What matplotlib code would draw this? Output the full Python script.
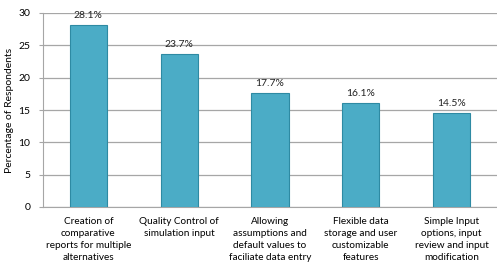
import matplotlib
matplotlib.use("Agg")
import matplotlib.pyplot as plt

categories = [
    "Creation of\ncomparative\nreports for multiple\nalternatives",
    "Quality Control of\nsimulation input",
    "Allowing\nassumptions and\ndefault values to\nfaciliate data entry",
    "Flexible data\nstorage and user\ncustomizable\nfeatures",
    "Simple Input\noptions, input\nreview and input\nmodification",
]
values = [28.1, 23.7, 17.7, 16.1, 14.5]
value_labels = ["28.1%", "23.7%", "17.7%", "16.1%", "14.5%"]
yticks = [0, 5, 10, 15, 20, 25, 30]

plt.rcParams['font.family'] = ['Lato', 'DejaVu Sans']

fig = plt.figure(figsize=(4.97, 2.73), dpi=100)
ax = fig.add_axes([43/497, 66/273, 454/497, 194/273])

x = range(len(values))
ax.bar(x, values, width=0.41, color="#4BACC6", edgecolor="#2E8AA3", linewidth=0.8, zorder=3)
for xi, v, lab in zip(x, values, value_labels):
    ax.annotate(lab, (xi, v), xytext=(0, 3.5), textcoords="offset points",
                ha="center", va="bottom", fontsize=7.5, color="#222222")

ax.set_xlim(-0.5, len(values) - 0.5)
ax.set_ylim(0, 30)
ax.set_yticks(yticks)
ax.set_yticklabels([str(t) for t in yticks], fontsize=7.5)
ax.yaxis.grid(True, color="#A6A6A6", linewidth=0.9, zorder=0)
ax.set_xticks(list(x))
ax.set_xticklabels(categories, fontsize=7.2, linespacing=1.42)
ax.tick_params(axis="x", length=0, pad=7.5)
ax.tick_params(axis="y", length=3, color="#A6A6A6", pad=6)
ax.set_ylabel("Percentage of Respondents", fontsize=7.5, labelpad=3)

for s in ["top", "right"]:
    ax.spines[s].set_visible(False)
ax.spines["left"].set_color("#A6A6A6")
ax.spines["bottom"].set_color("#A6A6A6")

fig.savefig("out.png", dpi=100)
